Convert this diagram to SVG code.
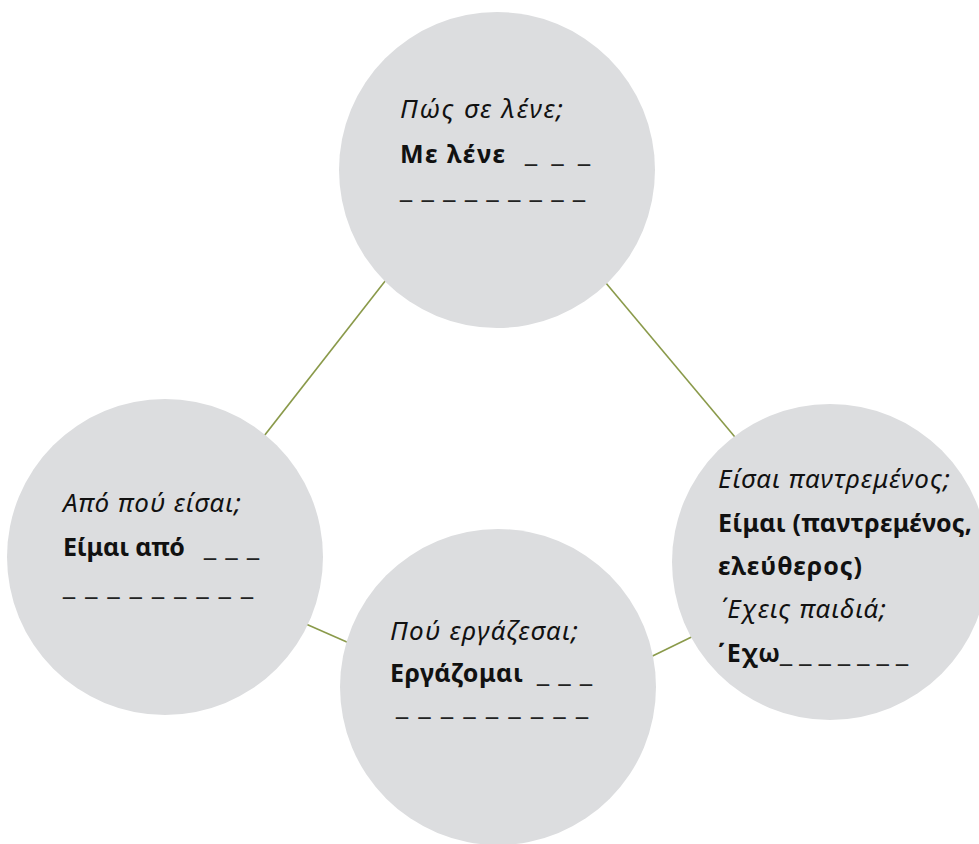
<svg xmlns="http://www.w3.org/2000/svg" width="979" height="844" viewBox="0 0 979 844">
<style>
.c{fill:#dcdddf}
.ln{stroke:#8a9a4a;stroke-width:1.6;fill:none}
text{font-family:"Noto Sans","Open Sans",sans-serif;font-size:25px;fill:#111}
.q{font-style:italic;font-size:26px}
.b{font-weight:bold}
.u{font-family:"DejaVu Sans",sans-serif;font-size:24px;fill:#222}
</style>
<rect width="979" height="844" fill="#fff"/>
<g id="connectors">
<line class="ln" x1="400" y1="262" x2="250" y2="454"/>
<line class="ln" x1="590" y1="264" x2="750" y2="455"/>
<line class="ln" x1="290" y1="617" x2="365" y2="650"/>
<line class="ln" x1="630" y1="667" x2="710" y2="628"/>
</g>
<g id="n1">
<circle class="c" cx="497" cy="170" r="158"/>
<text class="q" x="400" y="118" textLength="163">Πώς σε λένε;</text>
<text class="b" x="400" y="163" textLength="105">Με λένε</text>
<text class="u" x="525" y="160" textLength="65">_ _ _</text>
<text class="u" x="400" y="196" textLength="185">_ _ _ _ _ _ _ _ _</text>
</g>
<g id="n2">
<circle class="c" cx="165" cy="557" r="158"/>
<text class="q" x="63" y="512" textLength="178">Από πού είσαι;</text>
<text class="b" x="63" y="556" textLength="122">Είμαι από</text>
<text class="u" x="204" y="554" textLength="55">_ _ _</text>
<text class="u" x="63" y="593" textLength="190">_ _ _ _ _ _ _ _ _</text>
</g>
<g id="n3">
<circle class="c" cx="498" cy="687" r="158"/>
<text class="q" x="390" y="640" textLength="188">Πού εργάζεσαι;</text>
<text class="b" x="390" y="682" textLength="133">Εργάζομαι</text>
<text class="u" x="537" y="680" textLength="55">_ _ _</text>
<text class="u" x="396" y="713" textLength="192">_ _ _ _ _ _ _ _ _</text>
</g>
<g id="n4">
<circle class="c" cx="830" cy="562" r="158"/>
<text class="q" x="718" y="488" textLength="232">Είσαι παντρεμένος;</text>
<text class="b" x="718" y="532" textLength="254">Είμαι (παντρεμένος,</text>
<text class="b" x="718" y="575" textLength="144">ελεύθερος)</text>
<text class="q" x="720" y="618" textLength="166">΄Εχεις παιδιά;</text>
<text class="b" x="718" y="662" textLength="62">΄Εχω</text>
<text class="u" x="780" y="660" textLength="128">_ _ _ _ _ _ _</text>
</g>
</svg>
